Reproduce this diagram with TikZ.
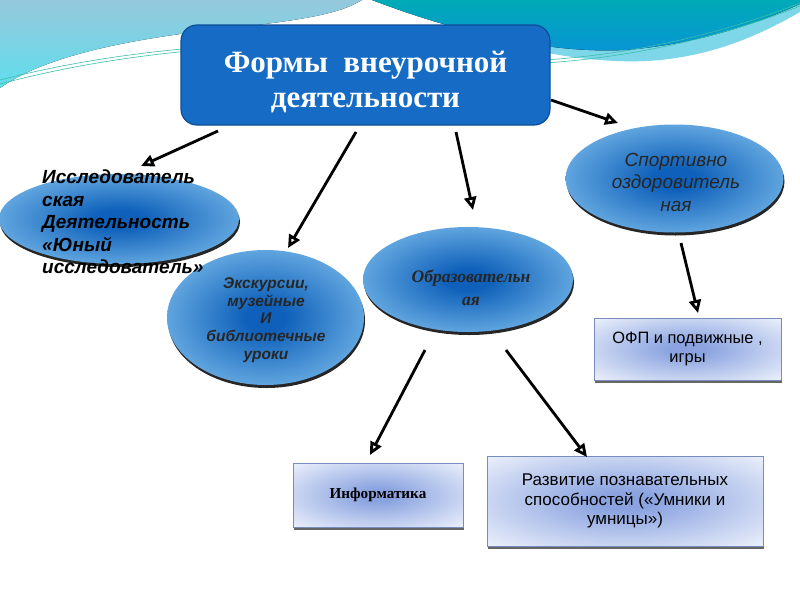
\documentclass[tikz,border=0pt]{standalone}
\usepackage{fontspec}
\setmainfont{Liberation Serif}
\setsansfont{Liberation Sans}
\usetikzlibrary{shadows,arrows.meta,shapes.geometric}
\definecolor{titlefill}{RGB}{22,108,196}
\definecolor{titledraw}{RGB}{14,78,150}
\definecolor{ellin}{RGB}{14,96,186}
\definecolor{ellout}{RGB}{140,202,242}
\definecolor{boxin}{RGB}{138,163,224}
\definecolor{boxout}{RGB}{244,247,253}
\definecolor{boxdraw}{RGB}{120,140,190}
\definecolor{bgtop}{RGB}{150,200,220}
\definecolor{bgbot}{RGB}{95,222,236}
\definecolor{tealtop}{RGB}{0,170,182}
\definecolor{tealbot}{RGB}{8,148,214}
\definecolor{cyanband}{RGB}{125,215,232}
\definecolor{swline}{RGB}{60,190,170}
\pgfdeclareradialshading{ellshade}{\pgfpoint{0bp}{0bp}}{color(0bp)=(ellin); color(5bp)=(ellin); color(36bp)=(ellout); color(72bp)=(ellout)}
\pgfdeclareradialshading{boxshade}{\pgfpoint{0bp}{0bp}}{color(0bp)=(boxin); color(5bp)=(boxin); color(38bp)=(boxout); color(72bp)=(boxout)}
\tikzset{
  tbox/.style={draw=titledraw, line width=1.2pt, fill=titlefill, rounded corners=16pt,
    minimum width=369pt, minimum height=100pt, text=white, align=center,
    font=\fontsize{31}{35}\selectfont\bfseries},
  ell/.style={ellipse, inner sep=0pt, shading=ellshade,
    drop shadow={shadow xshift=1pt, shadow yshift=-3pt, fill=black, opacity=0.85}},
  bx/.style={rectangle, draw=boxdraw, line width=0.8pt, shading=boxshade, align=center,
    drop shadow={shadow xshift=1pt, shadow yshift=-3pt, fill=black!75, opacity=0.8}},
  etxt/.style={inner sep=0pt, text=black!85},
  arr/.style={line width=2.8pt, black, -{Triangle[open, length=13pt, width=12pt]}},
}
\begin{document}
\begin{tikzpicture}[x=1pt, y=-1pt]
\useasboundingbox (0,0) rectangle (800,600);
\fill[white] (0,0) rectangle (800,600);
% background swooshes
\fill[top color=bgtop, bottom color=bgbot] (0,0) -- (362,0) .. controls (340,14) and (300,20) .. (240,27) .. controls (150,36) and (50,52) .. (0,88) -- cycle;
\fill[cyanband] (425,10) .. controls (500,52) and (600,66) .. (660,60) .. controls (720,54) and (765,32) .. (800,12) -- (800,0) -- (425,0) -- cycle;
\fill[top color=tealtop, bottom color=tealbot] (372,0) -- (800,0) -- (800,4) .. controls (760,22) and (700,44) .. (625,50) .. controls (545,54) and (450,30) .. (372,0) -- cycle;
\draw[swline, line width=0.6pt] (0,84) .. controls (120,52) and (250,42) .. (370,45);
\draw[swline, line width=0.6pt] (0,80) .. controls (120,49) and (250,40) .. (370,43);
\draw[swline, line width=0.6pt] (545,63) .. controls (650,56) and (740,30) .. (800,6);
\draw[swline, line width=0.6pt] (545,60) .. controls (650,53) and (740,27) .. (800,3);

% title
\node[tbox] (title) at (365.5,75) {\rule{0pt}{35pt}Формы \ внеурочной\\деятельности};

% ellipses
\node[ell, minimum width=240pt, minimum height=90pt] (e1) at (119,219) {};
\node[ell, minimum width=197pt, minimum height=135pt] (e2) at (265.5,317.5) {};
\node[ell, minimum width=210pt, minimum height=105pt] (e3) at (468,279.5) {};
\node[ell, minimum width=218pt, minimum height=108pt] (e4) at (674.5,178.5) {};

\node[etxt, text=black, anchor=west, align=left, font=\fontsize{19}{22.5}\selectfont\sffamily\bfseries\itshape] (t1) at (42,222) {Исследователь\\ская\\Деятельность\\«Юный\\исследователь»};
\node[etxt, align=center, font=\fontsize{15.5}{17.7}\selectfont\sffamily\bfseries\itshape] (t2) at (266,320) {Экскурсии,\\музейные\\И\\библиотечные\\уроки};
\node[etxt, align=center, font=\fontsize{17.6}{23}\selectfont\bfseries\itshape] (t3) at (471,288) {Образовательн\\ая};
\node[etxt, align=center, font=\fontsize{19}{22.5}\selectfont\sffamily\itshape] (t4) at (676,182) {Спортивно\\оздоровитель\\ная};

% boxes
\node[bx, minimum width=187pt, minimum height=62pt, font=\fontsize{16.4}{19}\selectfont\sffamily] (ofp) at (687.5,349) {ОФП и подвижные ,\\игры};
\node[bx, minimum width=170pt, minimum height=64pt, font=\fontsize{15.2}{17}\selectfont\bfseries] (inf) at (378,495) {Информатика};
\node[bx, minimum width=276pt, minimum height=90pt, font=\fontsize{17}{19.5}\selectfont\sffamily] (razv) at (625,501) {Развитие познавательных\\способностей («Умники и\\умницы»)};

% connector ends
\coordinate (a1s) at (218,131);
\coordinate (a1e) at (141,166);
\coordinate (a2s) at (356,132);
\coordinate (a2e) at (288,248);
\coordinate (a3s) at (456,132);
\coordinate (a3e) at (473,210);
\coordinate (a4s) at (551,100);
\coordinate (a4e) at (618,123);
\coordinate (a5s) at (681,243);
\coordinate (a5e) at (698,313);
\coordinate (a6s) at (425,350);
\coordinate (a6e) at (370,455);
\coordinate (a7s) at (506,350);
\coordinate (a7e) at (587,457);

\draw[arr] (a1s) -- (a1e);
\draw[arr] (a2s) -- (a2e);
\draw[arr] (a3s) -- (a3e);
\draw[arr] (a4s) -- (a4e);
\draw[arr] (a5s) -- (a5e);
\draw[arr] (a6s) -- (a6e);
\draw[arr] (a7s) -- (a7e);
\end{tikzpicture}
\end{document}
